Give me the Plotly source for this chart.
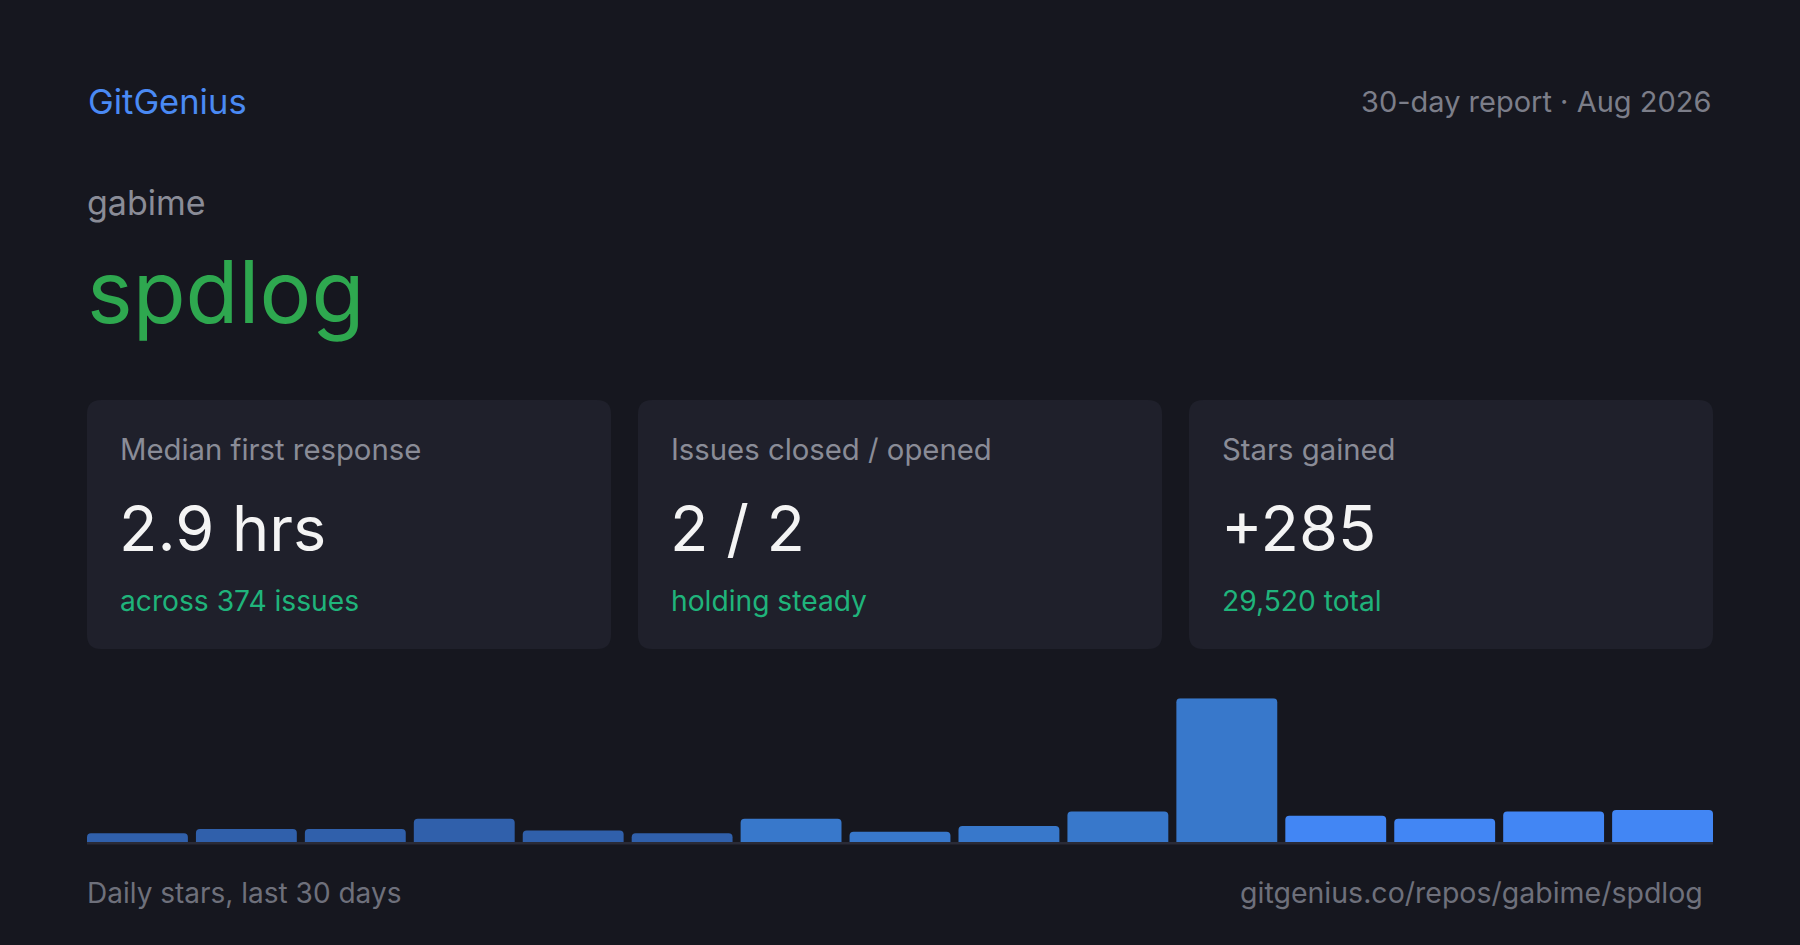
import plotly.graph_objects as go

# repo header
brand = "GitGenius"
period_label = "30-day report · Aug 2026"
owner = "gabime"
repo = "spdlog"

# stat cards
card_labels = ["Median first response", "Issues closed / opened", "Stars gained"]
card_values = ["2.9 hrs", "2 / 2", "+285"]
card_notes = ["across 374 issues", "holding steady", "29,520 total"]

# daily stars, bucketed (15 bars for the 30 days)
star_buckets = list(range(15))
star_counts = [6, 9, 9, 16, 8, 6, 16, 7, 11, 21, 99, 18, 16, 21, 22]

footer_left = "Daily stars, last 30 days"
footer_right = "gitgenius.co/repos/gabime/spdlog"

W, H = 1800, 945
BG = "#16171f"
CARD_BG = "#1f202b"
FONT = "Inter"


def bar_color(i):
    if i < 6:
        return "#3060ab"
    if i < 11:
        return "#3878cb"
    return "#4286f4"


def rounded_rect(x0, y0, x1, y1, r):
    return (f"M{x0+r},{y0} L{x1-r},{y0} Q{x1},{y0} {x1},{y0+r} "
            f"L{x1},{y1-r} Q{x1},{y1} {x1-r},{y1} L{x0+r},{y1} "
            f"Q{x0},{y1} {x0},{y1-r} L{x0},{y0+r} Q{x0},{y0} {x0+r},{y0} Z")


def text(x, baseline, s, size, color, anchor="left"):
    return dict(x=x, y=baseline - 0.364 * size, xref="x2", yref="y2", text=s,
                showarrow=False, xanchor=anchor, yanchor="middle", borderpad=0,
                font=dict(family=FONT, size=size, color=color))


left, right = 87, 1713
base_px = 842
top_px = 698.3
gap = 0.074

fig = go.Figure()
fig.add_trace(go.Bar(
    x=star_buckets, y=star_counts,
    marker=dict(color=[bar_color(i) for i in star_buckets], line_width=0, cornerradius=4),
    hoverinfo="skip",
))
# full-canvas axis pair used for pixel placement of cards and text
fig.add_trace(go.Scatter(x=[0], y=[0], xaxis="x2", yaxis="y2", mode="markers",
                         marker=dict(opacity=0), hoverinfo="skip"))

shapes = []
card_w, card_gap = 524, 27
card_top, card_bot = 400, 649
annotations = [
    text(left, 114, brand, 34.5, "#4a8af4"),
    text(1712, 112, period_label, 29, "#7c7e89", anchor="right"),
    text(left - 1, 215, owner, 34, "#8a8c97"),
    text(left - 1, 323, repo, 86.5, "#2ea84f"),
    text(left - 1, 903, footer_left, 28, "#6e707b"),
    text(1704, 903, footer_right, 28.5, "#6e707b", anchor="right"),
]
for i, (lab, val, note) in enumerate(zip(card_labels, card_values, card_notes)):
    x0 = left + i * (card_w + card_gap)
    shapes.append(dict(type="path", xref="x2", yref="y2", layer="below",
                       path=rounded_rect(x0, card_top, x0 + card_w, card_bot, 14),
                       fillcolor=CARD_BG, line_width=0))
    annotations.append(text(x0 + 32, 460, lab, 29.3, "#8a8c97"))
    annotations.append(text(x0 + 31, 551, val, 63, "#f4f4f4"))
    annotations.append(text(x0 + 32, 611, note, 28.2, "#1fb47b"))

shapes.append(dict(type="line", xref="x2", yref="y2", x0=left, x1=right,
                   y0=base_px + 1.2, y1=base_px + 1.2, line=dict(color="#2a2b37", width=2.5)))

fig.update_layout(
    width=W, height=H, margin=dict(l=0, r=0, t=0, b=0),
    paper_bgcolor=BG, plot_bgcolor="rgba(0,0,0,0)",
    showlegend=False, bargap=gap,
    shapes=shapes, annotations=annotations,
    xaxis=dict(domain=[left / W, right / W], range=[-0.5 + gap / 2, 14.5 - gap / 2],
               visible=False, fixedrange=True),
    yaxis=dict(domain=[1 - base_px / H, 1 - top_px / H], range=[0, max(star_counts)],
               visible=False, fixedrange=True),
    xaxis2=dict(domain=[0, 1], range=[0, W], visible=False, anchor="y2", fixedrange=True),
    yaxis2=dict(domain=[0, 1], range=[H, 0], visible=False, anchor="x2", fixedrange=True),
)

fig.write_html("out.html", config={"displayModeBar": False},
               post_script="document.body.style.margin='0';document.body.style.background='%s';" % BG)
